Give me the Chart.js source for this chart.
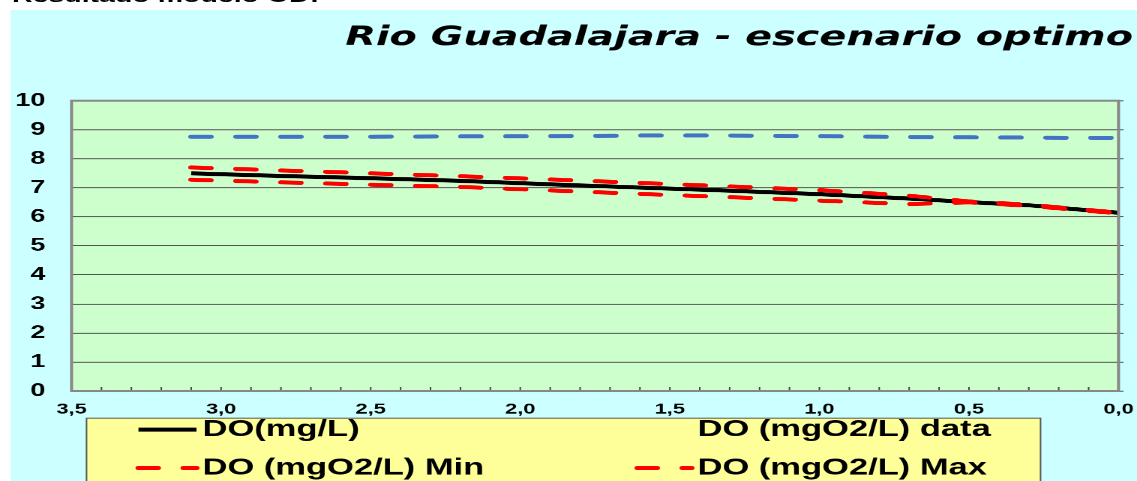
<!DOCTYPE html>
<html>
<head>
<meta charset="utf-8">
<title>Rio Guadalajara - escenario optimo</title>
<script src="https://cdn.jsdelivr.net/npm/chart.js@4.4.1/dist/chart.umd.min.js"></script>
<style>
  html, body { margin: 0; padding: 0; background: #fff; overflow: hidden; }
  /* the whole sheet is stretched sideways like the exported workbook page */
  #page { position: absolute; left: 0; top: 0; width: 758px; height: 481px;
          transform: scaleX(1.5); transform-origin: 0 0; }
  #heading { position: absolute; left: 8px; top: -14px; white-space: nowrap;
             font: bold 19px "Liberation Sans", Arial, sans-serif; line-height: 19px; }
  #panel { position: absolute; left: 6.67px; top: 9.5px; width: 751.33px; height: 471.5px;
           background: #ccffff; }
</style>
</head>
<body>
<div id="page">
  <div id="heading">Resultado modelo OD:</div>
  <div id="panel"><canvas id="doChart"></canvas></div>
</div>
<script>
// distance to the outlet (km) and dissolved oxygen along the river
const distKm     = [3.1, 2.8, 2.5, 2.2, 1.9, 1.6, 1.3, 1.0, 0.7, 0.5, 0.3, 0.15, 0.0];
const doModel    = [7.50, 7.41, 7.33, 7.24, 7.12, 7.01, 6.90, 6.78, 6.63, 6.51, 6.40, 6.27, 6.14];
const doMin      = [7.28, 7.19, 7.11, 7.03, 6.91, 6.79, 6.68, 6.56, 6.44, 6.50, 6.38, 6.25, 6.12];
const doMax      = [7.70, 7.60, 7.50, 7.40, 7.29, 7.17, 7.05, 6.92, 6.73, 6.53, 6.42, 6.28, 6.15];
const doSat      = [8.76, 8.76, 8.76, 8.77, 8.78, 8.80, 8.80, 8.78, 8.75, 8.74, 8.73, 8.72, 8.72];
const doObserved = [];

const xTickValues = [3.5, 3.0, 2.5, 2.0, 1.5, 1.0, 0.5, 0.0];
const xTickLabels = ['3,5', '3,0', '2,5', '2,0', '1,5', '1,0', '0,5', '0,0'];

function pts(ys) {
  return ys.map((y, i) => ({ x: distKm[i], y: y }));
}

const FONT = '"Liberation Sans", Arial, sans-serif';

// green plot background, grey frame, small ticks every 0.1 km
const plotFrame = {
  id: 'plotFrame',
  beforeDraw(chart) {
    const { ctx, chartArea: a } = chart;
    ctx.save();
    ctx.fillStyle = '#ccffcc';
    ctx.fillRect(a.left, a.top, a.width, a.height);
    ctx.restore();
  },
  afterDraw(chart) {
    const { ctx, chartArea: a } = chart;
    const x = chart.scales.x;
    ctx.save();
    ctx.strokeStyle = '#444';
    ctx.lineWidth = 1;
    for (let k = 0; k <= 35; k++) {
      const px = x.getPixelForValue(k / 10);
      ctx.beginPath();
      ctx.moveTo(px, a.bottom);
      ctx.lineTo(px, a.bottom - 4);
      ctx.stroke();
    }
    ctx.strokeStyle = '#888';
    ctx.lineWidth = 2;
    ctx.strokeRect(a.left, a.top, a.width, a.height);
    ctx.restore();
  }
};

// two-column legend in a yellow box under the axis
const boxLegend = {
  id: 'boxLegend',
  afterDraw(chart) {
    const ctx = chart.ctx;
    const box = { left: 50.7, top: 408.5, right: 686.7 };
    const cols = [{ line: 85.3, text: 128 }, { line: 418, text: 458 }];
    const rowY = 420, rowGap = 38.5;
    ctx.save();
    ctx.fillStyle = '#ffff99';
    ctx.fillRect(box.left, box.top, box.right - box.left, chart.height);
    ctx.strokeStyle = '#555';
    ctx.lineWidth = 1;
    ctx.strokeRect(box.left, box.top, box.right - box.left, chart.height);
    ctx.font = 'bold 23px ' + FONT;
    ctx.textBaseline = 'middle';
    ctx.fillStyle = '#000';
    chart.data.datasets.forEach((ds, i) => {
      const c = cols[i % 2];
      const y = rowY + Math.floor(i / 2) * rowGap;
      if (ds.showLine !== false) {
        ctx.save();
        ctx.strokeStyle = ds.borderColor;
        ctx.lineWidth = ds.borderWidth;
        ctx.lineCap = ds.borderCapStyle || 'butt';
        ctx.setLineDash(ds.borderDash || []);
        ctx.beginPath();
        ctx.moveTo(c.line, y);
        ctx.lineTo(c.text - 4, y);
        ctx.stroke();
        ctx.restore();
      }
      ctx.fillText(ds.label, c.text, y);
    });
    ctx.restore();
  }
};

new Chart(document.getElementById('doChart'), {
  type: 'line',
  data: {
    datasets: [
      { label: 'DO(mg/L)', data: pts(doModel), borderColor: '#000', borderWidth: 4,
        pointRadius: 0, order: 2 },
      { label: 'DO (mgO2/L) data', data: doObserved, showLine: false, borderColor: '#000',
        pointRadius: 0, order: 4 },
      { label: 'DO (mgO2/L) Min', data: pts(doMin), borderColor: '#ff0000', borderWidth: 4,
        borderDash: [13, 17], borderCapStyle: 'round', pointRadius: 0, order: 1 },
      { label: 'DO (mgO2/L) Max', data: pts(doMax), borderColor: '#ff0000', borderWidth: 4,
        borderDash: [13, 17], borderCapStyle: 'round', pointRadius: 0, order: 1 },
      { label: 'DO sat (mg/L)', data: pts(doSat), borderColor: '#4472c4', borderWidth: 4,
        borderDash: [13, 17], borderCapStyle: 'round', pointRadius: 0, order: 3 }
    ]
  },
  options: {
    responsive: true,
    maintainAspectRatio: false,
    devicePixelRatio: 2,
    animation: false,
    layout: { padding: { left: 0, top: 0, bottom: 0, right: 3 } },
    scales: {
      x: {
        type: 'linear', reverse: true, min: 0, max: 3.5,
        afterBuildTicks(s) { s.ticks = xTickValues.map(v => ({ value: v })); },
        afterFit(s) { s.height = 90; },
        grid: { display: false },
        border: { display: false },
        ticks: {
          padding: 2, color: '#000', maxRotation: 0,
          font: { family: FONT, size: 14.5, weight: 'bold' },
          callback: v => xTickLabels[xTickValues.indexOf(v)]
        }
      },
      y: {
        min: 0, max: 10,
        afterFit(s) { s.width = 40.7; },
        grid: { color: '#555', lineWidth: 1, drawTicks: false },
        border: { display: false },
        ticks: { stepSize: 1, padding: 17.4, color: '#000',
                 font: { family: FONT, size: 18, weight: 'bold' } }
      },
      y2: {
        position: 'right', min: 0, max: 10,
        afterFit(s) { s.width = 9.6; },
        grid: { drawOnChartArea: false, tickLength: 3.3, color: '#555' },
        border: { display: false },
        ticks: { stepSize: 1, display: false }
      }
    },
    plugins: {
      legend: { display: false },
      tooltip: { enabled: false },
      title: {
        display: true, align: 'end', color: '#000',
        text: 'Rio Guadalajara - escenario optimo',
        font: { family: '"DejaVu Sans", sans-serif', size: 26.5, weight: 'bold', style: 'italic' },
        padding: { top: 12, bottom: 47 }
      }
    }
  },
  plugins: [plotFrame, boxLegend]
});
</script>
</body>
</html>
